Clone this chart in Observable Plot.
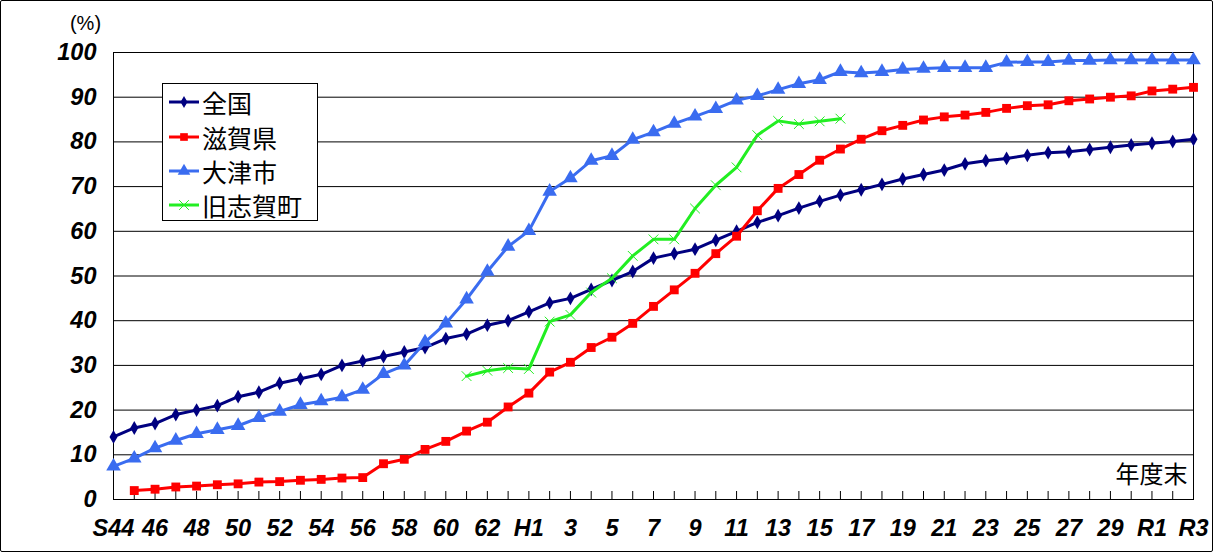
<!DOCTYPE html>
<html>
<head>
<meta charset="utf-8">
<script src="https://cdn.jsdelivr.net/npm/d3@7"></script>
<script src="https://cdn.jsdelivr.net/npm/@observablehq/plot@0.6"></script>
<style>
  html, body { margin: 0; padding: 0; background: #fff; }
  #wrap { position: relative; width: 1217px; height: 553px; overflow: hidden; }
  #border { position: absolute; left: 0; top: 0; width: 1211px; height: 550px; border: 1px solid #000; border-radius: 2px; pointer-events: none; }
  #legend { position: absolute; left: 162px; top: 83px; width: 154px; height: 136px; border: 1px solid #000; background: #fff;
            font-family: "Noto Sans CJK JP", sans-serif; font-size: 25px; color: #000; }
  .row { position: absolute; left: 6px; height: 34px; display: flex; align-items: center; }
  .row svg { margin-right: 3px; }
  .row span { line-height: 34px; }
</style>
</head>
<body>
<div id="wrap"></div>
<script>
// categories (年度末): S44..S63, H1..H30, R1..R3
const years = [
  "S44","S45","S46","S47","S48","S49","S50","S51","S52","S53","S54","S55","S56","S57","S58","S59","S60","S61","S62","S63",
  "H1","H2","H3","H4","H5","H6","H7","H8","H9","H10","H11","H12","H13","H14","H15","H16","H17","H18","H19","H20",
  "H21","H22","H23","H24","H25","H26","H27","H28","H29","H30","R1","R2","R3"
];
// tick labels (every other year)
const tickKeys = ["S44","S46","S48","S50","S52","S54","S56","S58","S60","S62","H1","H3","H5","H7","H9","H11","H13","H15","H17","H19","H21","H23","H25","H27","H29","R1","R3"];
const tickLabels = ["S44","46","48","50","52","54","56","58","60","62","H1","3","5","7","9","11","13","15","17","19","21","23","25","27","29","R1","R3"];

const seriesNames = ["全国","滋賀県","大津市","旧志賀町"];
const seriesColors = ["#000080","#ff0000","#3a6cf0","#22ee22"];

const zenkoku = [14.0,16.0,17.0,19.0,20.0,21.0,23.0,24.0,26.0,27.0,28.0,30.0,31.0,32.0,33.0,34.0,36.0,37.0,39.0,40.0,
  42.0,44.0,45.0,47.0,49.0,51.0,54.0,55.0,56.0,58.0,60.0,62.0,63.5,65.2,66.7,68.1,69.3,70.5,71.7,72.7,
  73.7,75.1,75.8,76.3,77.0,77.6,77.8,78.3,78.8,79.3,79.7,80.1,80.6];
const shigaKen = [null,2.0,2.3,2.8,3.0,3.3,3.5,3.9,4.0,4.3,4.5,4.8,4.9,8.0,9.0,11.2,13.0,15.3,17.3,20.7,
  23.8,28.5,30.7,34.0,36.3,39.4,43.2,46.9,50.6,55.0,58.9,64.6,69.6,72.7,75.9,78.4,80.6,82.5,83.7,84.9,
  85.6,86.0,86.6,87.5,88.1,88.3,89.2,89.6,90.0,90.3,91.4,91.8,92.2];
const otsuShi = [7.4,9.2,11.5,13.2,14.7,15.6,16.5,18.3,19.7,21.2,22.0,22.9,24.6,28.1,30.0,35.2,39.4,44.8,51.0,56.6,
  60.1,68.9,71.9,75.8,76.9,80.5,82.2,84.1,85.7,87.4,89.3,90.3,91.7,93.0,93.9,95.7,95.4,95.7,96.2,96.4,
  96.6,96.6,96.6,97.8,97.9,97.9,98.2,98.2,98.3,98.3,98.3,98.3,98.3];
const kyuShigaCho = [null,null,null,null,null,null,null,null,null,null,null,null,null,null,null,null,null,27.6,28.8,29.4,
  29.2,39.8,41.3,46.3,49.5,54.5,58.2,58.2,65.1,70.3,74.3,81.5,84.7,84.0,84.6,85.2,null,null,null,null,
  null,null,null,null,null,null,null,null,null,null,null,null,null];

const yTicks = [0,10,20,30,40,50,60,70,80,90,100];

const allValues = [zenkoku, shigaKen, otsuShi, kyuShigaCho];
const rows = [];
allValues.forEach((arr, s) => arr.forEach((v, i) => {
  if (v != null) rows.push({year: years[i], value: v, series: seriesNames[s]});
}));
const bySeries = (name) => rows.filter(d => d.series === name);
const labelOf = new Map(tickKeys.map((k, i) => [k, tickLabels[i]]));

const symbols = ["diamond","square","triangle","times"];
const radii = [4.2, 5, 5.4, 4.5];

const seriesMarks = seriesNames.flatMap((name, s) => [
  Plot.line(bySeries(name), {x: "year", y: "value", stroke: seriesColors[s], strokeWidth: 3}),
  s === 3
    ? Plot.dot(bySeries(name), {x: "year", y: "value", symbol: symbols[s], r: radii[s], stroke: seriesColors[s], strokeWidth: 1})
    : Plot.dot(bySeries(name), {x: "year", y: "value", symbol: symbols[s], r: radii[s], fill: seriesColors[s], stroke: "none"})
]);

const axisFont = {fontSize: 23.5, fontWeight: "bold", fontStyle: "italic", fontFamily: "Liberation Sans, Arial, sans-serif"};

const chart = Plot.plot({
  width: 1217,
  height: 553,
  marginLeft: 113,
  marginRight: 24,
  marginTop: 52,
  marginBottom: 54,
  style: {background: "transparent", color: "#000"},
  x: {type: "point", domain: years, padding: 0},
  y: {domain: [0, 100]},
  marks: [
    Plot.gridY(yTicks, {stroke: "#000", strokeOpacity: 1, strokeWidth: 1}),
    Plot.frame({stroke: "#000", strokeWidth: 1}),
    Plot.ruleX(years, {x: d => d, y1: 0, y2: 0, insetBottom: 8, stroke: "#000", strokeWidth: 1}),
    Plot.axisY(yTicks, {tickSize: 0, tickPadding: 17, label: null, ...axisFont}),
    Plot.axisX(tickKeys, {tickSize: 0, tickPadding: 20, label: null, tickFormat: d => labelOf.get(d), ...axisFont}),
    Plot.text(["(%)"], {frameAnchor: "top-left", dx: -28, dy: -37, text: d => d, fontSize: 20, fontFamily: "Liberation Sans, Arial, sans-serif", textAnchor: "middle"}),
    Plot.text(["年度末"], {frameAnchor: "bottom-right", dx: -6, dy: -17, text: d => d, fontSize: 24, fontFamily: "Noto Sans CJK JP, sans-serif", textAnchor: "end"}),
    ...seriesMarks
  ]
});

const wrap = document.getElementById("wrap");
wrap.appendChild(chart);

// legend
const legend = document.createElement("div");
legend.id = "legend";
const legendTops = [0, 35, 69, 103];
seriesNames.forEach((name, s) => {
  const row = document.createElement("div");
  row.className = "row";
  row.style.top = (legendTops[s] + 1) + "px";
  const sym = d3.symbol(
    [d3.symbolDiamond, d3.symbolSquare, d3.symbolTriangle, d3.symbolTimes][s],
    Math.PI * radii[s] * radii[s] * (s === 3 ? 1 : 0.75)
  )();
  const filled = s !== 3;
  row.innerHTML =
    `<svg width="30" height="16" viewBox="-15 -8 30 16">
       <line x1="-15" x2="15" y1="0" y2="0" stroke="${seriesColors[s]}" stroke-width="3"/>
       <path d="${sym}" ${filled ? `fill="${seriesColors[s]}"` : `fill="none" stroke="${seriesColors[s]}" stroke-width="1"`}/>
     </svg><span>${name}</span>`;
  legend.appendChild(row);
});
wrap.appendChild(legend);

const border = document.createElement("div");
border.id = "border";
wrap.appendChild(border);
</script>
</body>
</html>
